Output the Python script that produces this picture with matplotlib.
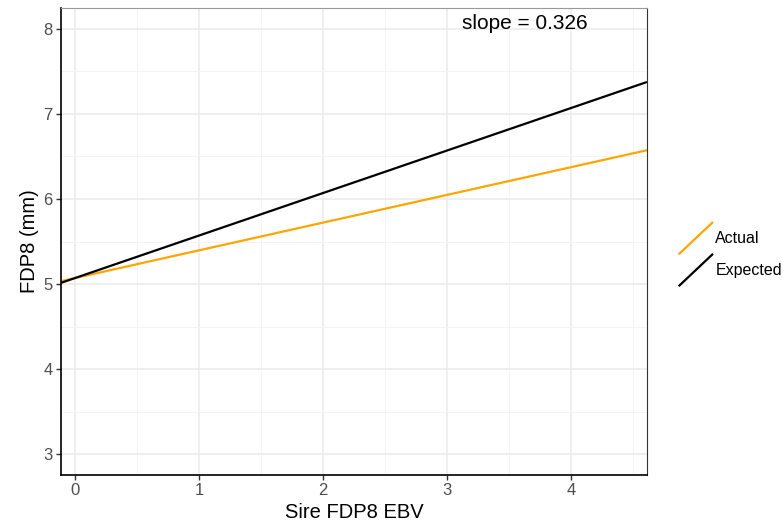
import matplotlib
matplotlib.use("Agg")
import matplotlib.pyplot as plt
from matplotlib.legend_handler import HandlerBase
from matplotlib.lines import Line2D
import numpy as np

plt.rcParams['font.family'] = ['Liberation Sans', 'DejaVu Sans']

# data
intercept = 5.07
series = ['Actual', 'Expected']
slopes = [0.326, 0.5]
colors = ['#FFA500', '#000000']
xlim = (-0.113, 4.613)
ylim = (2.753, 8.247)
slope_label = 'slope = 0.326'


class DiagHandler(HandlerBase):
    # ggplot-style abline key: a diagonal stroke
    def create_artists(self, legend, orig, xd, yd, w, h, fontsize, trans):
        ln = Line2D([-xd, -xd + w], [-yd, -yd + h],
                    color=orig.get_color(), lw=orig.get_linewidth())
        ln.set_transform(trans)
        return [ln]


fig = plt.figure(figsize=(7.83, 5.25), dpi=100)
ax = fig.add_axes([0.0779, 0.0952, 0.7484, 0.8896])

x = np.array(xlim)
handles = []
for name, s, c in zip(series, slopes, colors):
    h, = ax.plot(x, intercept + s * x, color=c, lw=1.6, label=name,
                 solid_capstyle='butt')
    handles.append(h)

ax.set_xlim(xlim)
ax.set_ylim(ylim)
ax.set_xticks([0, 1, 2, 3, 4])
ax.set_yticks([3, 4, 5, 6, 7, 8])
ax.set_xticks(np.arange(0.5, 4.6, 1), minor=True)
ax.set_yticks(np.arange(3.5, 8.1, 1), minor=True)
ax.grid(True, which='major', color='#ebebeb', lw=1.1)
ax.grid(True, which='minor', color='#f3f3f3', lw=0.6)
ax.set_axisbelow(True)
ax.tick_params(which='minor', length=0)
ax.tick_params(which='major', length=3.5, width=1, color='#333333',
               labelcolor='#4d4d4d', labelsize=12, pad=2.5)

ax.spines['left'].set_color('black')
ax.spines['left'].set_linewidth(1.2)
ax.spines['bottom'].set_color('black')
ax.spines['bottom'].set_linewidth(1.2)
ax.spines['top'].set_color('#999999')
ax.spines['top'].set_linewidth(0.8)
ax.spines['right'].set_color('#333333')
ax.spines['right'].set_linewidth(0.8)

ax.set_xlabel('Sire FDP8 EBV', fontsize=14.5, labelpad=3)
ax.set_ylabel('FDP8 (mm)', fontsize=14.5, labelpad=3)

ax.text(3.625, 8.07, slope_label, fontsize=15, ha='center', va='center')

fig.legend(handles=handles, labels=series, handler_map={Line2D: DiagHandler()},
           loc='center left', bbox_to_anchor=(0.8535, 0.516), frameon=False,
           fontsize=11.5, handlelength=2.05, handleheight=2.6,
           handletextpad=0.2, labelspacing=0.06, borderpad=0.2)

fig.savefig('out.png', dpi=100)
